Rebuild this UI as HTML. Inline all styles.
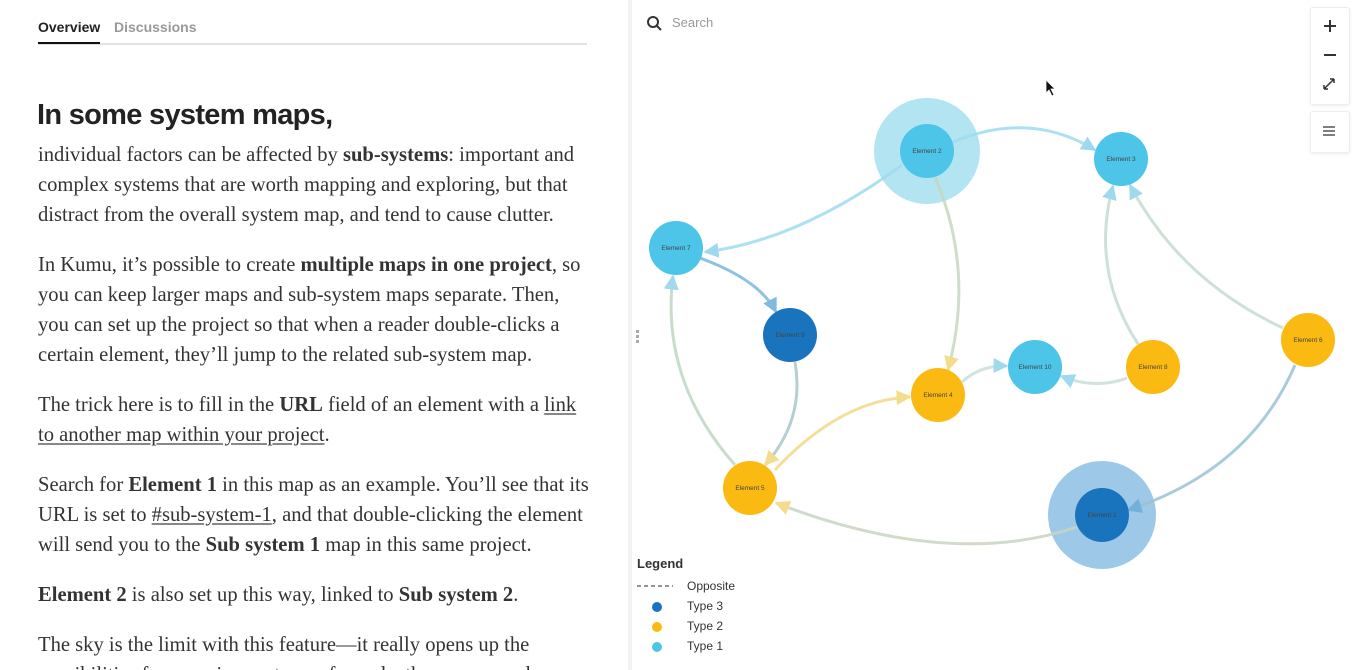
<!DOCTYPE html>
<html><head><meta charset="utf-8"><style>
html,body{margin:0;width:1356px;height:670px;overflow:hidden}
body{background:#fff;font-family:"Liberation Sans",sans-serif;position:relative}
.left{position:absolute;left:0;top:0;width:628px;height:670px;overflow:hidden}
.tabs{position:absolute;left:38px;top:18px;width:549px;height:25px;border-bottom:2px solid #e2e2e2;font-size:14px}
.tabs span{position:absolute;top:1px}
.t1{left:0;color:#222;font-weight:bold;border-bottom:2px solid #111;padding-bottom:7px}
.t2{left:76px;color:#999;font-weight:bold}
h1{position:absolute;left:37px;top:99px;margin:0;font-size:29px;font-weight:bold;color:#222;letter-spacing:-0.7px}
.txt{position:absolute;left:38px;top:140px;font-family:"Liberation Serif",serif;font-size:20.6px;line-height:30px;color:#333;white-space:nowrap}
.txt p{margin:0 0 20px 0}
.txt u{text-decoration-color:#888}
.div{position:absolute;left:628px;top:0;width:4px;height:670px;background:#f2f2f2}
.ctrl{position:absolute;left:1310px;width:38px;background:#fff;border:1px solid #eee;border-radius:3px;box-shadow:0 1px 3px rgba(0,0,0,.08)}
.leg{position:absolute;left:637px;top:556px;font-size:12px;color:#333;white-space:nowrap}
</style></head><body>
<div class="left">
<div class="tabs"><span class="t1">Overview</span><span class="t2">Discussions</span></div>
<h1>In some system maps,</h1>
<div class="txt">
<p>individual factors can be affected by <b>sub-systems</b>: important and<br>complex systems that are worth mapping and exploring, but that<br>distract from the overall system map, and tend to cause clutter.</p>
<p>In Kumu, it’s possible to create <b>multiple maps in one project</b>, so<br>you can keep larger maps and sub-system maps separate. Then,<br>you can set up the project so that when a reader double-clicks a<br>certain element, they’ll jump to the related sub-system map.</p>
<p>The trick here is to fill in the <b>URL</b> field of an element with a <u>link</u><br><u>to another map within your project</u>.</p>
<p>Search for <b>Element 1</b> in this map as an example. You’ll see that its<br>URL is set to <u>#sub-system-1</u>, and that double-clicking the element<br>will send you to the <b>Sub system 1</b> map in this same project.</p>
<p><b>Element 2</b> is also set up this way, linked to <b>Sub system 2</b>.</p>
<p>The sky is the limit with this feature—it really opens up the<br>possibilities for mapping systems of any depth or scope and</p>
</div>
</div>
<div class="div"></div>
<div style="position:absolute;left:636px;top:330px;width:3px;height:14px;background:repeating-linear-gradient(#aaa 0 3px,transparent 3px 5px)"></div>
<svg style="position:absolute;left:0;top:0" width="1356" height="670">
<defs>
<marker id="a" viewBox="0 0 10 10" refX="9" refY="5" markerWidth="5" markerHeight="5" orient="auto"><path d="M0,0L10,5L0,10z" fill="#8fd3ea"/></marker>
<marker id="b" viewBox="0 0 10 10" refX="9" refY="5" markerWidth="5" markerHeight="5" orient="auto"><path d="M0,0L10,5L0,10z" fill="#f3d77a"/></marker>
<marker id="c" viewBox="0 0 10 10" refX="9" refY="5" markerWidth="5" markerHeight="5" orient="auto"><path d="M0,0L10,5L0,10z" fill="#6aaed8"/></marker>
</defs>
<circle cx="653" cy="22" r="5" fill="none" stroke="#333" stroke-width="2"/><line x1="657" y1="26" x2="661" y2="30" stroke="#333" stroke-width="2"/>
<text x="672" y="27" font-size="13" fill="#999" font-family="Liberation Sans">Search</text>
<circle cx="927" cy="151" r="53" fill="#b3e4f1"/>
<circle cx="1102" cy="515" r="54" fill="#9ec8e7"/>
<g fill="none" stroke-width="3" opacity=".85">
<path d="M953,142 Q1030,110 1095,150" stroke="#9fdcef" marker-end="url(#a)"/>
<path d="M902,165 Q800,240 705,252" stroke="#9fdcef" marker-end="url(#a)"/>
<path d="M935,177 Q975,270 948,370" stroke="#c9d7c0" marker-end="url(#b)"/>
<path d="M700,258 Q760,280 776,312" stroke="#7bb8db" marker-end="url(#c)"/>
<path d="M795,362 Q805,420 765,465" stroke="#a8c8cc" marker-end="url(#b)"/>
<path d="M735,465 Q660,380 673,276" stroke="#bfd7c3" marker-end="url(#a)"/>
<path d="M775,470 Q840,400 910,397" stroke="#f3d98a" marker-end="url(#b)"/>
<path d="M962,382 Q980,365 1007,366" stroke="#c9dfd8" marker-end="url(#a)"/>
<path d="M1127,378 Q1095,390 1061,376" stroke="#c9dfd8" marker-end="url(#a)"/>
<path d="M1138,344 Q1090,270 1113,186" stroke="#c6dccf" marker-end="url(#a)"/>
<path d="M1283,328 Q1180,280 1130,185" stroke="#c6dccf" marker-end="url(#a)"/>
<path d="M1295,365 Q1250,470 1128,510" stroke="#9cc3d3" marker-end="url(#c)"/>
<path d="M1077,527 Q950,570 776,503" stroke="#c9d5c0" marker-end="url(#b)"/>
</g>
<g font-family="Liberation Sans" font-size="6.5" fill="#444" text-anchor="middle">
<circle cx="927" cy="151" r="27" fill="#4dc5e8"/><text x="927" y="153">Element 2</text>
<circle cx="1121" cy="159" r="27" fill="#4dc5e8"/><text x="1121" y="161">Element 3</text>
<circle cx="676" cy="248" r="27" fill="#4dc5e8"/><text x="676" y="250">Element 7</text>
<circle cx="790" cy="335" r="27" fill="#1a74bd"/><text x="790" y="337">Element 9</text>
<circle cx="938" cy="395" r="27" fill="#fbba12"/><text x="938" y="397">Element 4</text>
<circle cx="1035" cy="367" r="27" fill="#4dc5e8"/><text x="1035" y="369">Element 10</text>
<circle cx="1153" cy="367" r="27" fill="#fbba12"/><text x="1153" y="369">Element 8</text>
<circle cx="1308" cy="340" r="27" fill="#fbba12"/><text x="1308" y="342">Element 6</text>
<circle cx="750" cy="488" r="27" fill="#fbba12"/><text x="750" y="490">Element 5</text>
<circle cx="1102" cy="515" r="27" fill="#1a74bd"/><text x="1102" y="517">Element 1</text>
</g>
<path d="M1046,80 L1046,93 L1049,90 L1052,96 L1054,95 L1051,89 L1055,89 Z" fill="#111" stroke="#fff" stroke-width=".8"/>
<line x1="637" y1="586" x2="673" y2="586" stroke="#555" stroke-dasharray="4,3" stroke-width="1.3"/>
<circle cx="657" cy="607" r="5" fill="#1a74bd"/><circle cx="657" cy="627" r="5" fill="#fbba12"/><circle cx="657" cy="647" r="5" fill="#4dc5e8"/>
<g stroke="#333" stroke-width="2" fill="none">
<path d="M1323,90 L1335,78 M1323,90 l0,-4 M1323,90 l4,0 M1335,78 l0,4 M1335,78 l-4,0" stroke-width="1.5"/>
<path d="M1323,127 h12 M1323,131 h12 M1323,135 h12" stroke-width="1.3"/>
</g>
</svg>
<div class="ctrl" style="top:7px;height:96px">
<div style="position:absolute;left:13px;top:17px;width:12px;height:2px;background:#333"></div>
<div style="position:absolute;left:18px;top:12px;width:2px;height:12px;background:#333"></div>
<div style="position:absolute;left:13px;top:46px;width:12px;height:2px;background:#333"></div>
</div>
<div class="ctrl" style="top:111px;height:40px"></div>
<svg style="position:absolute;left:0;top:0" width="1356" height="670">
<g stroke="#333" fill="none" stroke-width="1.5">
<path d="M1324,89 L1334,79 M1324,89 h4 M1324,89 v-4 M1334,79 h-4 M1334,79 v4"/>
<path d="M1323,127 h12 M1323,131 h12 M1323,135 h12" stroke-width="1.2"/>
</g>
</svg>
<div class="leg"><div style="font-weight:bold;font-size:13px">Legend</div>
<div style="position:absolute;left:50px;top:23px">Opposite</div>
<div style="position:absolute;left:50px;top:43px">Type 3</div>
<div style="position:absolute;left:50px;top:63px">Type 2</div>
<div style="position:absolute;left:50px;top:83px">Type 1</div>
</div>
</body></html>
